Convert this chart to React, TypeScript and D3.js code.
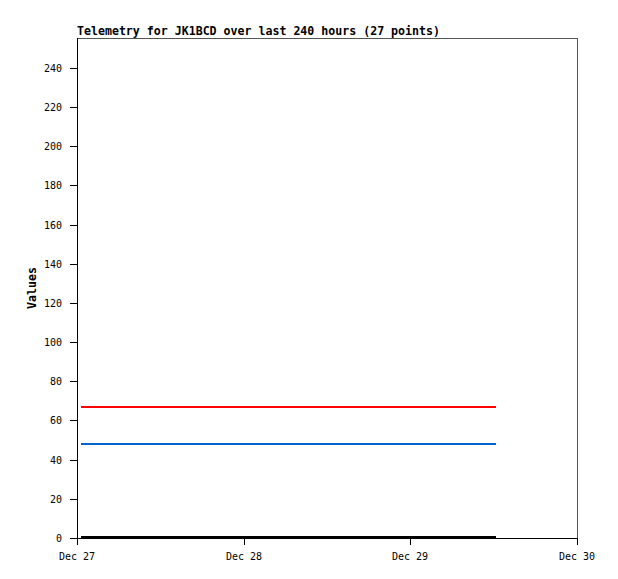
import React from "react";
import * as d3 from "d3";

const title = "Telemetry for JK1BCD over last 240 hours (27 points)";
const yLabel = "Values";
const baseDate = new Date(2023, 11, 27, 0, 0, 0);
const hourOffsets = [0.6, 2.9, 5.2, 7.5, 9.8, 12.0, 14.3, 16.6, 18.9, 21.2, 23.5, 25.8, 28.1, 30.4, 32.7, 35.0, 37.3, 39.6, 41.9, 44.2, 46.5, 48.8, 51.1, 53.4, 55.7, 58.0, 60.4];
const seriesRed = [67, 67, 67, 67, 67, 67, 67, 67, 67, 67, 67, 67, 67, 67, 67, 67, 67, 67, 67, 67, 67, 67, 67, 67, 67, 67, 67];
const seriesBlue = [48, 48, 48, 48, 48, 48, 48, 48, 48, 48, 48, 48, 48, 48, 48, 48, 48, 48, 48, 48, 48, 48, 48, 48, 48, 48, 48];
const seriesBlack = [0.3, 0.3, 0.3, 0.3, 0.3, 0.3, 0.3, 0.3, 0.3, 0.3, 0.3, 0.3, 0.3, 0.3, 0.3, 0.3, 0.3, 0.3, 0.3, 0.3, 0.3, 0.3, 0.3, 0.3, 0.3, 0.3, 0.3];
const yTicks = [0, 20, 40, 60, 80, 100, 120, 140, 160, 180, 200, 220, 240];
const xTickDays = [27, 28, 29, 30];

const W = 618, H = 579;
const left = 77, right = 577, top = 38, bottom = 538;
const font = "'DejaVu Sans Mono', 'Liberation Mono', monospace";

export default function App() {
  const x = d3.scaleTime()
    .domain([baseDate, d3.timeDay.offset(baseDate, 3)])
    .range([left, right]);
  const y = d3.scaleLinear().domain([0, 255.3]).range([bottom, top]);
  const times = hourOffsets.map((h) => d3.timeMinute.offset(baseDate, Math.round(h * 60)));
  const line = d3.line<[Date, number]>().x((d) => x(d[0])).y((d) => y(d[1]));
  const mk = (vals: number[]) => line(times.map((t, i) => [t, vals[i]] as [Date, number])) || "";
  const fmt = d3.timeFormat("%b %d");
  const series = [
    { vals: seriesBlack, color: "#000000" },
    { vals: seriesBlue, color: "#0066cc" },
    { vals: seriesRed, color: "#ff0000" },
  ];
  return (
    <svg width={W} height={H} style={{ position: "absolute", left: 0, top: 0, background: "#fff" }}
      shapeRendering="crispEdges">
      <rect x={0} y={0} width={W} height={H} fill="#fff" />
      <text x={left} y={35} fontFamily={font} fontWeight="bold" fontSize={11.6} fill="#000">{title}</text>
      <line x1={left} x2={right} y1={top + 0.5} y2={top + 0.5} stroke="#555" strokeWidth={1} />
      <line x1={right + 0.5} x2={right + 0.5} y1={top} y2={bottom} stroke="#555" strokeWidth={1} />
      {series.map((s, i) => (
        <path key={i} d={mk(s.vals)} fill="none" stroke={s.color} strokeWidth={2.2} />
      ))}
      <line x1={left + 0.5} x2={left + 0.5} y1={top} y2={bottom + 7} stroke="#000" strokeWidth={1} />
      <line x1={left} x2={right + 1} y1={bottom + 0.5} y2={bottom + 0.5} stroke="#000" strokeWidth={1} />
      {yTicks.map((t) => (
        <g key={t}>
          <line x1={left - 7} x2={left} y1={Math.round(y(t)) + 0.5} y2={Math.round(y(t)) + 0.5} stroke="#000" />
          <text x={62} y={Math.round(y(t)) + 4} textAnchor="end" fontFamily={font} fontSize={10} fill="#000">{t}</text>
        </g>
      ))}
      {xTickDays.map((d) => {
        const dt = d3.timeDay.offset(baseDate, d - 27);
        const px = Math.round(x(dt));
        return (
          <g key={d}>
            <line x1={px + 0.5} x2={px + 0.5} y1={bottom} y2={bottom + 7} stroke="#000" />
            <text x={px} y={560} textAnchor="middle" fontFamily={font} fontSize={10} fill="#000">{fmt(dt)}</text>
          </g>
        );
      })}
      <text transform={`translate(36, ${(top + bottom) / 2}) rotate(-90)`} textAnchor="middle"
        fontFamily={font} fontWeight="bold" fontSize={11.6} fill="#000">{yLabel}</text>
    </svg>
  );
}
